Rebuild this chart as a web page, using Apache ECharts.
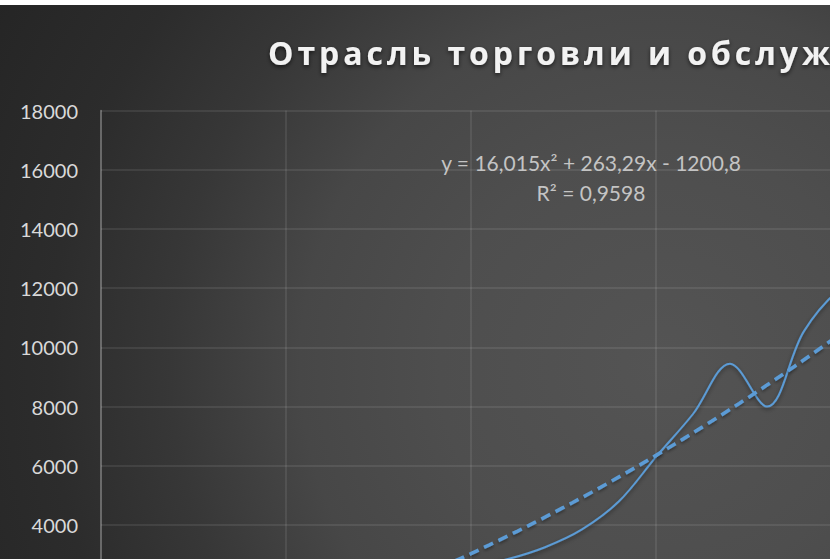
<!DOCTYPE html>
<html><head><meta charset="utf-8">
<script src="https://cdn.jsdelivr.net/npm/echarts@6/dist/echarts.min.js"></script>
<style>
html,body{margin:0;padding:0;width:830px;height:559px;overflow:hidden;background:#ffffff;}
#wrap{position:absolute;left:0;top:5px;width:830px;height:554px;overflow:hidden;
background: radial-gradient(circle at 660px 360px, #545454 0px, #4e4e4e 220px, #474747 360px, #373737 490px, #2c2c2c 610px, #252525 760px);}
#chart{position:absolute;left:0;top:0;width:1300px;height:720px;}
</style></head><body>
<div id="wrap"><div id="chart"></div></div>
<script>
// Data
const chartTitle = 'Отрасль торговли и обслуживания';
const xValues = [1, 2, 3, 4, 5, 6, 7, 8, 9, 10, 11, 12, 13, 14, 15, 16, 17, 18, 19, 20, 21];
const yValues = [250, 450, 650, 900, 1150, 1450, 1750, 2050, 2350, 2600, 2850, 3250, 3850, 4800, 6300, 7750, 9450, 8000, 10550, 12000, 12600];
// Quadratic trendline coefficients shown on chart: a*x^2 + b*x + c
const trendCoef = [16.015, 263.29, -1200.8];
const trendLabel = ['y = 16,015x² + 263,29x - 1200,8', 'R² = 0,9598'];
const yAxisRange = [0, 18000, 2000];
const yVisibleLabelMin = 4000; // lower tick labels fall below the visible frame
const xAxisRange = [0, 30, 5];

const pts = xValues.map((x, i) => [x, yValues[i]]);
const trendPts = [];
for (let x = xValues[0]; x <= xValues[xValues.length - 1] + 1e-9; x += 0.25) {
  trendPts.push([x, trendCoef[0] * x * x + trendCoef[1] * x + trendCoef[2]]);
}

const blue = '#5B9BD5';
const chart = echarts.init(document.getElementById('chart'), null, {renderer: 'svg'});
chart.setOption({
  animation: false,
  backgroundColor: 'transparent',
  title: {
    text: chartTitle,
    left: 268, top: 31, padding: 0,
    textStyle: {
      color: '#f2f2f2', fontSize: 32, fontWeight: 'bold',
      fontFamily: '"Open Sans", "Noto Sans", sans-serif',
      textShadowColor: 'rgba(0,0,0,0.6)', textShadowBlur: 4, textShadowOffsetY: 2
    }
  },
  grid: {left: 101, top: 105.6, width: 1110, height: 532.8, containLabel: false, outerBoundsMode: 'none'},
  xAxis: {
    type: 'value', min: xAxisRange[0], max: xAxisRange[1], interval: xAxisRange[2],
    axisLine: {show: true, lineStyle: {color: 'rgba(255,255,255,0.3)', width: 1.5}},
    axisTick: {show: false},
    axisLabel: {show: false},
    splitLine: {show: true, lineStyle: {color: 'rgba(255,255,255,0.11)', width: 1.5}}
  },
  yAxis: {
    type: 'value', min: yAxisRange[0], max: yAxisRange[1], interval: yAxisRange[2],
    axisLine: {show: true, lineStyle: {color: 'rgba(255,255,255,0.3)', width: 1.5}},
    axisTick: {show: false},
    axisLabel: {color: '#d9d9d9', fontSize: 20, fontFamily: 'Lato, sans-serif', margin: 23,
      formatter: v => (v >= yVisibleLabelMin ? String(v) : '')},
    splitLine: {show: true, lineStyle: {color: 'rgba(255,255,255,0.11)', width: 1.5}}
  },
  graphic: [{
    type: 'text', x: 591, y: 172, z: 100,
    style: {
      text: trendLabel.join('\n'),
      align: 'center', verticalAlign: 'middle', textAlign: 'center', textVerticalAlign: 'middle',
      fill: '#c4c4c4', fontSize: 21, lineHeight: 30,
      fontFamily: 'Lato, "Open Sans", sans-serif'
    }
  }],
  series: [{
    type: 'line', data: pts, smooth: 0.35, showSymbol: false, z: 3,
    lineStyle: {color: blue, width: 2,
      shadowColor: 'rgba(0,0,0,0.45)', shadowBlur: 4, shadowOffsetY: 2}
  }, {
    type: 'line', data: trendPts, smooth: false, showSymbol: false, z: 4,
    lineStyle: {color: blue, width: 3.6, type: [10, 6],
      shadowColor: 'rgba(0,0,0,0.35)', shadowBlur: 3, shadowOffsetY: 2}
  }]
});
// Title letter spacing (as in the reference)
document.querySelectorAll('#chart svg text').forEach(t => {
  if (t.textContent === chartTitle) t.setAttribute('letter-spacing', '3.95');
});
</script>
</body></html>
